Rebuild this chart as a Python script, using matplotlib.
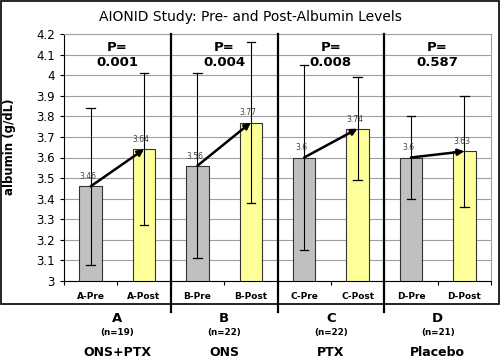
import matplotlib
matplotlib.use("Agg")
import matplotlib.pyplot as plt
from matplotlib.patches import Rectangle
from matplotlib.lines import Line2D

categories = ["A-Pre", "A-Post", "B-Pre", "B-Post", "C-Pre", "C-Post", "D-Pre", "D-Post"]
means = [3.46, 3.64, 3.56, 3.77, 3.60, 3.74, 3.60, 3.63]
err_top = [3.84, 4.01, 4.01, 4.16, 4.05, 3.99, 3.80, 3.90]
err_bottom = [3.08, 3.27, 3.11, 3.38, 3.15, 3.49, 3.40, 3.36]
value_labels = ["3.46", "3.64", "3.56", "3.77", "3.6", "3.74", "3.6", "3.63"]
p_values = ["0.001", "0.004", "0.008", "0.587"]
groups = ["A", "B", "C", "D"]
group_n = ["(n=19)", "(n=22)", "(n=22)", "(n=21)"]
group_names = ["ONS+PTX", "ONS", "PTX", "Placebo"]
yticks = [3.0, 3.1, 3.2, 3.3, 3.4, 3.5, 3.6, 3.7, 3.8, 3.9, 4.0, 4.1, 4.2]

W, H = 500, 358
fig = plt.figure(figsize=(5, 3.58), dpi=100)
fig.patch.set_facecolor("white")

# outer border
fig.add_artist(Rectangle((0.5 / W, (H - 304) / H), (W - 1.5) / W, 304 / H - 1.0 / H,
                         transform=fig.transFigure, fill=False, edgecolor="black", lw=1.2))

ax = fig.add_axes([64 / W, (H - 281) / H, (491 - 64) / W, (281 - 34) / H])
x = list(range(len(categories)))
colors = ["#C0C0C0" if i % 2 == 0 else "#FFFF99" for i in x]
ax.bar(x, [m - 3.0 for m in means], bottom=3.0, width=0.42, color=colors,
       edgecolor="#333333", linewidth=0.8, zorder=3)

for i in x:
    ax.plot([i, i], [err_bottom[i], err_top[i]], color="black", lw=0.8, zorder=4)
    ax.plot([i - 0.08, i + 0.08], [err_top[i]] * 2, color="black", lw=0.9, zorder=4)
    ax.plot([i - 0.08, i + 0.08], [err_bottom[i]] * 2, color="black", lw=0.9, zorder=4)
    ax.text(i - 0.05, means[i] + 0.025, value_labels[i], ha="center", va="bottom",
            fontsize=5.5, color="#444444", zorder=5)

for g in range(4):
    i0, i1 = 2 * g, 2 * g + 1
    ax.annotate("", xy=(i1, means[i1]), xytext=(i0, means[i0]),
                arrowprops=dict(arrowstyle="-|>", color="black", lw=1.8,
                                mutation_scale=9, shrinkA=0, shrinkB=0), zorder=6)
    ax.text(i0 + 0.5, 4.135, "P=", ha="center", va="center", fontsize=9.5,
            fontweight="bold", zorder=6)
    ax.text(i0 + 0.5, 4.06, p_values[g], ha="center", va="center", fontsize=9.5,
            fontweight="bold", zorder=6)

ax.set_xlim(-0.5, len(categories) - 0.5)
ax.set_ylim(3.0, 4.2)
ax.set_yticks(yticks)
ax.set_yticklabels([f"{v:g}" for v in yticks], fontsize=8.5)
ax.yaxis.grid(True, color="#A0A0A0", lw=0.8, zorder=0)
ax.set_axisbelow(True)
ax.set_xticks(x)
ax.set_xticklabels(categories, fontsize=6.5, fontweight="bold")
ax.tick_params(axis="x", length=0, pad=8)
ax.set_xticks([i + 0.5 for i in range(-1, len(categories))], minor=True)
ax.tick_params(axis="x", which="minor", length=3, width=0.8, direction="out")
ax.tick_params(axis="y", length=3, width=0.8, direction="out")
for s in ["top", "right"]:
    ax.spines[s].set_color("#A0A0A0")
    ax.spines[s].set_linewidth(0.8)
ax.spines["left"].set_linewidth(0.8)
ax.spines["bottom"].set_linewidth(0.8)
ax.set_ylabel("albumin (g/dL)", fontsize=8.5, fontweight="bold")
ax.yaxis.set_label_coords(-0.112, 0.545)

fig.text(250 / W, (H - 17) / H, "AIONID Study: Pre- and Post-Albumin Levels",
         ha="center", va="center", fontsize=10)

# group dividers extending below the border
for d in [1.5, 3.5, 5.5]:
    xd = ax.transData.transform((d, 3.0))[0]
    fig.add_artist(Line2D([xd / W, xd / W], [(H - 312) / H, (H - 34) / H],
                          transform=fig.transFigure, color="black", lw=1.6))

for g in range(4):
    xc = ax.transData.transform((2 * g + 0.5, 3.0))[0] / W
    fig.text(xc, (H - 318) / H, groups[g], ha="center", va="center",
             fontsize=9.5, fontweight="bold")
    fig.text(xc, (H - 333) / H, group_n[g], ha="center", va="center",
             fontsize=6.3, fontweight="bold")
    fig.text(xc, (H - 352) / H, group_names[g], ha="center", va="center",
             fontsize=9, fontweight="bold")

fig.savefig("out.png", dpi=100)
